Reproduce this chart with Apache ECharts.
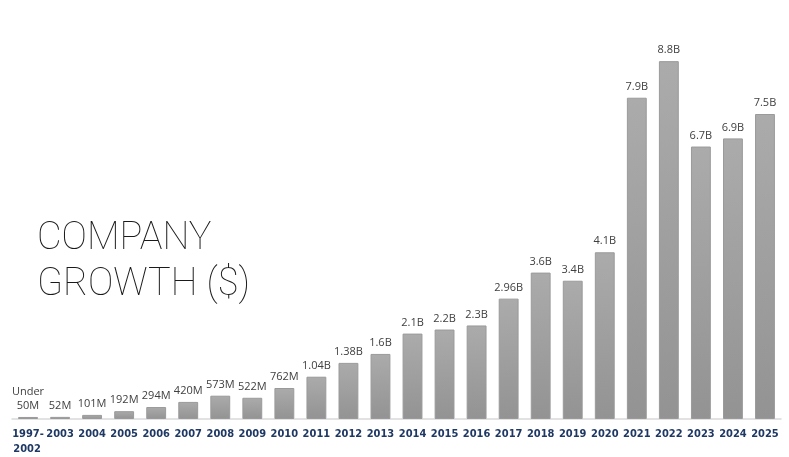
<!DOCTYPE html>
<html>
<head>
<meta charset="utf-8">
<script src="https://cdn.jsdelivr.net/npm/echarts@6/dist/echarts.min.js"></script>
<style>
html,body{margin:0;padding:0;background:#fff;}
#chart{width:789px;height:457px;}
</style>
</head>
<body>
<div id="chart"></div>
<script>
const categories = ['1997-\n2002','2003','2004','2005','2006','2007','2008','2009','2010','2011','2012','2013','2014','2015','2016','2017','2018','2019','2020','2021','2022','2023','2024','2025'];
const revenueBillions = [0.05,0.052,0.101,0.192,0.294,0.42,0.573,0.522,0.762,1.04,1.38,1.6,2.1,2.2,2.3,2.96,3.6,3.4,4.1,7.9,8.8,6.7,6.9,7.5];
const valueLabels = ['Under\n50M','52M','101M','192M','294M','420M','573M','522M','762M','1.04B','1.38B','1.6B','2.1B','2.2B','2.3B','2.96B','3.6B','3.4B','4.1B','7.9B','8.8B','6.7B','6.9B','7.5B'];

const chart = echarts.init(document.getElementById('chart'));
chart.setOption({
  animation: false,
  backgroundColor: '#ffffff',
  title: {
    text: 'COMPANY\nGROWTH ($)',
    left: 32,
    top: 211,
    textStyle: {
      fontFamily: 'Roboto',
      fontWeight: 100,
      fontSize: 38,
      lineHeight: 46,
      color: '#1a1a1a'
    }
  },
  grid: { left: 12, right: 8, top: 53, bottom: 38 },
  xAxis: {
    type: 'category',
    data: categories,
    axisTick: { show: false },
    axisLine: { lineStyle: { color: '#d9d9d9', width: 1.5 } },
    axisLabel: {
      interval: 0,
      margin: 8,
      fontFamily: '"Liberation Sans Narrow", "DejaVu Sans Condensed", sans-serif',
      fontWeight: 'bold',
      fontSize: 11,
      lineHeight: 15,
      color: '#1f3864',
      formatter: v => v.indexOf('\n') >= 0 ? v + '\u2009' : v
    }
  },
  yAxis: {
    type: 'value',
    min: 0,
    max: 9,
    show: false,
    splitLine: { show: false }
  },
  series: [{
    type: 'bar',
    data: revenueBillions,
    barWidth: '62%',
    itemStyle: {
      color: new echarts.graphic.LinearGradient(0, 0, 0, 1, [
        { offset: 0, color: '#ababab' },
        { offset: 1, color: '#939393' }
      ]),
      borderColor: '#9a9a9a',
      borderWidth: 1
    },
    label: {
      show: true,
      position: 'top',
      distance: 4,
      fontFamily: 'Open Sans',
      fontSize: 11,
      lineHeight: 14,
      color: '#404040',
      formatter: p => valueLabels[p.dataIndex]
    }
  }]
});
</script>
</body>
</html>
